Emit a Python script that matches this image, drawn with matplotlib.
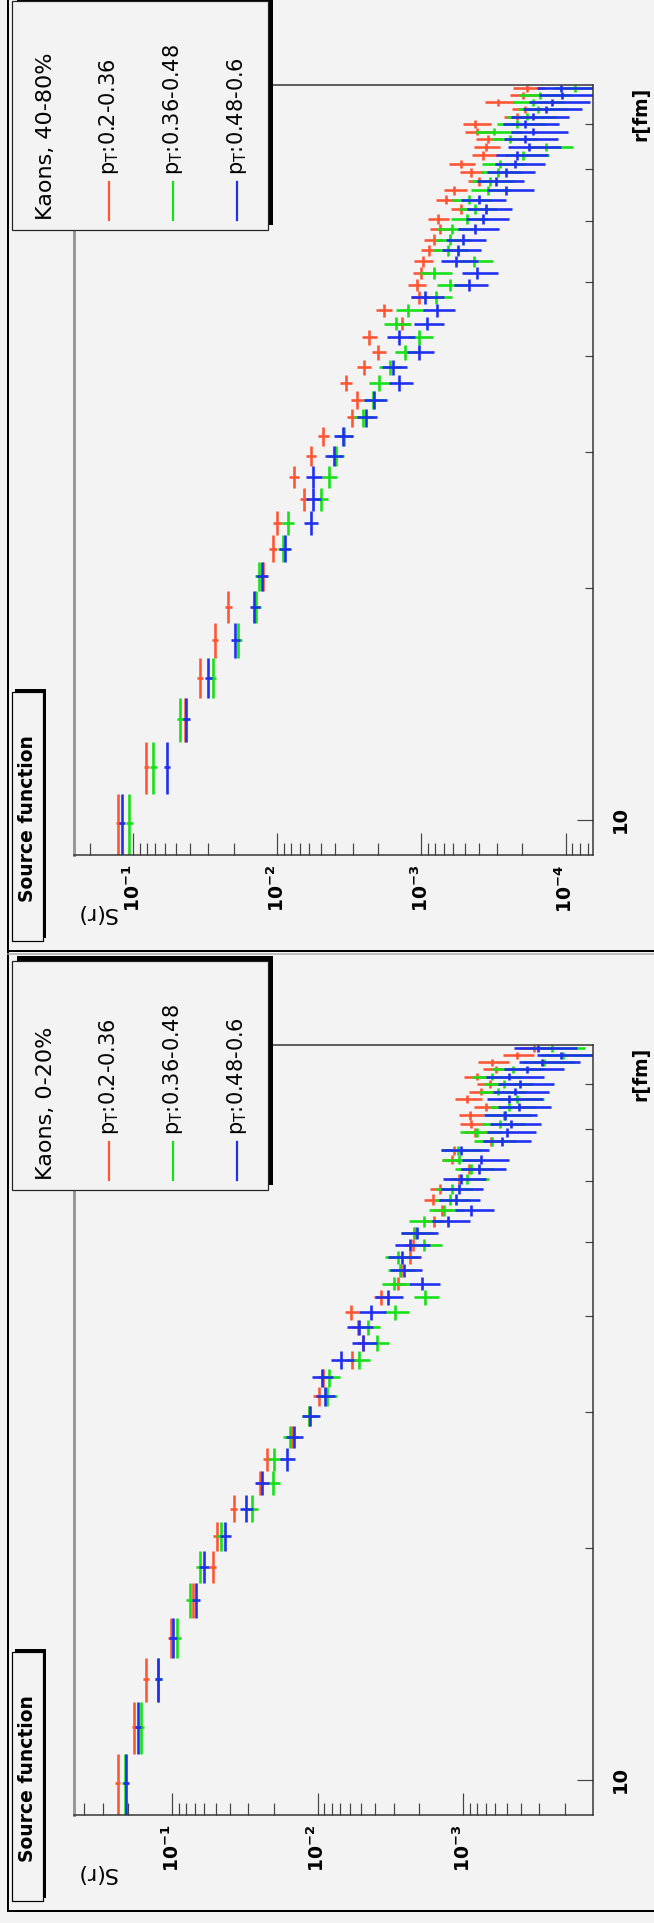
import matplotlib
matplotlib.use("Agg")
import matplotlib.pyplot as plt
from matplotlib.patches import Rectangle
import math

plt.rcParams['font.family'] = ['DejaVu Sans']
plt.rcParams['mathtext.fontset'] = 'dejavusans'

W, H = 654, 1923
BG = '#f3f3f3'
RED = '#ff5533'
GREEN = '#16e016'
BLUE = '#1f2ff0'
PX = 0.72  # one pixel in points at dpi 100

# r bins [fm], width 1.8 fm from 9 to 90
r_centers = [9.9, 11.7, 13.5, 15.3, 17.1, 18.9, 20.7, 22.5, 24.3, 26.1,
             27.9, 29.7, 31.5, 33.3, 35.1, 36.9, 38.7, 40.5, 42.3, 44.1,
             45.9, 47.7, 49.5, 51.3, 53.1, 54.9, 56.7, 58.5, 60.3, 62.1,
             63.9, 65.7, 67.5, 69.3, 71.1, 72.9, 74.7, 76.5, 78.3, 80.1,
             81.9, 83.7, 85.5, 87.3, 89.1]
r_half = 0.9

pt_labels = ['0.2-0.36', '0.36-0.48', '0.48-0.6']

# Kaons 0-20%
s020_a = [0.236, 0.182, 0.151, 0.102, 0.0723, 0.0527, 0.0492, 0.0378, 0.0247, 0.0223,
          0.0150, 0.0115, 0.00979, 0.00916, 0.00578, 0.00490, 0.00530, 0.00585, 0.00364, 0.00280,
          0.00267, 0.00230, 0.00222, 0.00218, 0.00158, 0.00140, 0.00160, 0.00145, 0.00107, 0.000912,
          0.00119, 0.00115, 0.000643, 0.000826, 0.000881, 0.000893, 0.000700, 0.000942, 0.000748, 0.000655,
          0.000800, 0.000594, 0.000634, 0.000427, 0.000328]
s020_b = [0.210, 0.164, 0.124, 0.0921, 0.0756, 0.0641, 0.0461, 0.0281, 0.0202, 0.0198,
          0.0155, 0.0114, 0.00858, 0.00829, 0.00523, 0.00389, 0.00453, 0.00292, 0.00182, 0.00299,
          0.00271, 0.00280, 0.00185, 0.00215, 0.00187, 0.00136, 0.00123, 0.00119, 0.000942, 0.000881,
          0.00107, 0.00109, 0.000634, 0.000800, 0.000556, 0.000520, 0.000487, 0.000427, 0.000574, 0.000524,
          0.000634, 0.000456, 0.000278, 0.000207, 0.000244]
s020_c = [0.207, 0.172, 0.124, 0.0985, 0.0686, 0.0608, 0.0432, 0.0310, 0.0242, 0.0163,
          0.0145, 0.0112, 0.00887, 0.00935, 0.00690, 0.00484, 0.00523, 0.00430, 0.00330, 0.00191,
          0.00256, 0.00262, 0.00230, 0.00208, 0.00127, 0.000881, 0.00111, 0.00107, 0.00104, 0.000773,
          0.000748, 0.00104, 0.000537, 0.000503, 0.000471, 0.000513, 0.000413, 0.000482, 0.000442, 0.000406,
          0.000487, 0.000362, 0.000286, 0.000213, 0.000307]

# Kaons 40-80%
s4080_a = [0.127, 0.0813, 0.0433, 0.0343, 0.0272, 0.0218, 0.0126, 0.0107, 0.0100, 0.00649,
           0.00766, 0.00587, 0.00481, 0.00302, 0.00279, 0.00334, 0.00252, 0.00199, 0.00231, 0.00136,
           0.00183, 0.00104, 0.00108, 0.00101, 0.000973, 0.000881, 0.000824, 0.000746, 0.000771, 0.000535,
           0.000675, 0.000591, 0.000396, 0.000453, 0.000535, 0.000371, 0.000359, 0.000347, 0.000410, 0.000424,
           0.000218, 0.000191, 0.000294, 0.000197, 0.000185]
s4080_b = [0.106, 0.0722, 0.0471, 0.0281, 0.0188, 0.0140, 0.0133, 0.00905, 0.00847, 0.00497,
           0.00435, 0.00394, 0.00345, 0.00256, 0.00217, 0.00196, 0.00166, 0.00129, 0.00104, 0.00150,
           0.00123, 0.000798, 0.000632, 0.000824, 0.000430, 0.000653, 0.000632, 0.000611, 0.000484, 0.000424,
           0.000469, 0.000347, 0.000336, 0.000294, 0.000284, 0.000197, 0.000137, 0.000241, 0.000314, 0.000218,
           0.000185, 0.000156, 0.000167, 0.000151, 0.0000859]
s4080_c = [0.119, 0.0583, 0.0427, 0.0300, 0.0195, 0.0144, 0.0128, 0.00887, 0.00587, 0.00568,
           0.00561, 0.00407, 0.00352, 0.00242, 0.00212, 0.00142, 0.00157, 0.00104, 0.00142, 0.000912,
           0.000782, 0.000942, 0.000469, 0.000410, 0.000571, 0.000553, 0.000518, 0.000424, 0.000371, 0.000359,
           0.000396, 0.000257, 0.000304, 0.000257, 0.000225, 0.000218, 0.000178, 0.000191, 0.000167, 0.000191,
           0.000167, 0.000137, 0.000124, 0.000105, 0.000108]

# relative statistical errors on S(r)
e_a = [0.04, 0.04, 0.05, 0.05, 0.05, 0.06, 0.06, 0.06, 0.07, 0.07,
       0.08, 0.08, 0.09, 0.09, 0.10, 0.10, 0.11, 0.11, 0.12, 0.12,
       0.13, 0.13, 0.14, 0.14, 0.15, 0.15, 0.16, 0.16, 0.17, 0.17,
       0.18, 0.18, 0.19, 0.19, 0.20, 0.20, 0.21, 0.21, 0.22, 0.22,
       0.23, 0.23, 0.24, 0.24, 0.25]
e_b = [0.05, 0.05, 0.05, 0.06, 0.06, 0.07, 0.08, 0.09, 0.10, 0.11,
       0.12, 0.13, 0.14, 0.15, 0.16, 0.17, 0.18, 0.19, 0.20, 0.21,
       0.22, 0.23, 0.24, 0.25, 0.26, 0.27, 0.27, 0.28, 0.29, 0.30,
       0.30, 0.31, 0.32, 0.32, 0.33, 0.34, 0.35, 0.35, 0.36, 0.37,
       0.38, 0.38, 0.39, 0.40, 0.40]
e_c = [0.05, 0.05, 0.06, 0.06, 0.07, 0.08, 0.09, 0.10, 0.11, 0.12,
       0.13, 0.14, 0.15, 0.16, 0.18, 0.19, 0.20, 0.21, 0.22, 0.24,
       0.25, 0.26, 0.27, 0.28, 0.29, 0.30, 0.31, 0.32, 0.33, 0.34,
       0.35, 0.36, 0.36, 0.37, 0.38, 0.39, 0.40, 0.41, 0.42, 0.42,
       0.43, 0.44, 0.45, 0.45, 0.46]

panels = [
    {'top': -9, 'title': 'Kaons, 40-80%', 'series': [s4080_a, s4080_b, s4080_c],
     'slim': (0.257, 6.45e-5)},
    {'top': 951, 'title': 'Kaons, 0-20%', 'series': [s020_a, s020_b, s020_c],
     'slim': (0.472, 1.28e-4)},
]
colors = [RED, GREEN, BLUE]
errs = [e_a, e_b, e_c]


def fig_box(x0, y0, x1, y1):
    return [x0 / W, 1 - y1 / H, (x1 - x0) / W, (y1 - y0) / H]


def exp_label(v, pos):
    return r'$\mathbf{10^{%d}}$' % int(round(math.log10(v)))


fig = plt.figure(figsize=(W / 100, H / 100), dpi=100, facecolor=BG)

ov = fig.add_axes([0, 0, 1, 1], zorder=10)
ov.set_xlim(0, W)
ov.set_ylim(H, 0)
ov.axis('off')
ov.patch.set_alpha(0)

for p in panels:
    t = p['top']
    ax = fig.add_axes(fig_box(74, t + 94, 593, t + 864), facecolor=BG)
    for s, c, e in zip(p['series'], colors, errs):
        xe = [v * f for v, f in zip(s, e)]
        ax.errorbar(s, r_centers, xerr=xe, yerr=r_half, fmt='none',
                    ecolor=c, elinewidth=2.6 * PX, capsize=0)
    ax.set_xscale('log')
    ax.set_yscale('log')
    ax.set_xlim(*p['slim'])
    ax.set_ylim(9, 90)

    ax.xaxis.set_major_formatter(matplotlib.ticker.FuncFormatter(exp_label))
    ax.xaxis.set_minor_formatter(matplotlib.ticker.NullFormatter())
    ax.tick_params(axis='x', which='major', direction='in', length=22 * PX,
                   width=1.2 * PX, color='#444444', pad=7, labelrotation=90,
                   labelsize=13.5)
    ax.tick_params(axis='x', which='minor', direction='in', length=12 * PX,
                   width=1.2 * PX, color='#444444')

    ax.yaxis.tick_right()
    ax.set_yticks([10])
    ax.set_yticklabels(['10'], rotation=90, va='center', fontweight='bold')
    ax.set_yticks([20, 30, 40, 50, 60, 70, 80], minor=True)
    ax.yaxis.set_minor_formatter(matplotlib.ticker.NullFormatter())
    ax.tick_params(axis='y', which='major', direction='in', length=16 * PX,
                   width=1.2 * PX, color='#444444', pad=13, labelsize=14)
    ax.tick_params(axis='y', which='minor', direction='in', length=8 * PX,
                   width=1.2 * PX, color='#444444')

    for side in ['top', 'right', 'bottom']:
        ax.spines[side].set_color('#333333')
        ax.spines[side].set_linewidth(1.5 * PX)
    ax.spines['left'].set_color('#999999')
    ax.spines['left'].set_linewidth(3 * PX)

    # axis titles
    ov.text(96, t + 922, 'S(r)', rotation=180, ha='center', va='center',
            fontsize=16)
    ov.text(641, t + 96, 'r[fm]', rotation=90, ha='center', va='top',
            fontsize=13.5, fontweight='bold')

    # title box with shadow
    ov.add_patch(Rectangle((15, t + 698), 31, 249, facecolor='black',
                           edgecolor='none'))
    ov.add_patch(Rectangle((12, t + 701), 31, 249, facecolor=BG,
                           edgecolor='black', linewidth=1.2 * PX))
    ov.text(27.5, t + 828, 'Source function', rotation=90, ha='center',
            va='center', fontsize=13.5, fontweight='bold')

    # legend with shadow
    ov.add_patch(Rectangle((17, t + 5), 256, 229, facecolor='black',
                           edgecolor='none'))
    ov.add_patch(Rectangle((12, t + 10), 256, 229, facecolor=BG,
                           edgecolor='#222222', linewidth=1.2 * PX))
    ov.text(46, t + 229, p['title'], rotation=90, ha='center', va='bottom',
            fontsize=16)
    for i, (lab, c) in enumerate(zip(pt_labels, colors)):
        x = 109 + 64 * i
        ov.plot([x, x], [t + 191, t + 229], color=c, lw=2.2 * PX)
        ov.text(x, t + 184, r'$\mathrm{p_{T}}$:' + lab, rotation=90,
                ha='center', va='bottom', fontsize=15)

# pad borders
ov.plot([8, 8], [0, 1911], color='black', lw=2 * PX)
ov.plot([8, W], [951, 951], color='black', lw=2 * PX)
ov.plot([8, W], [953.5, 953.5], color='#aaaaaa', lw=1.5 * PX)
ov.plot([8, W], [1911, 1911], color='black', lw=2 * PX)

fig.savefig('out.png', dpi=100, facecolor=BG)
